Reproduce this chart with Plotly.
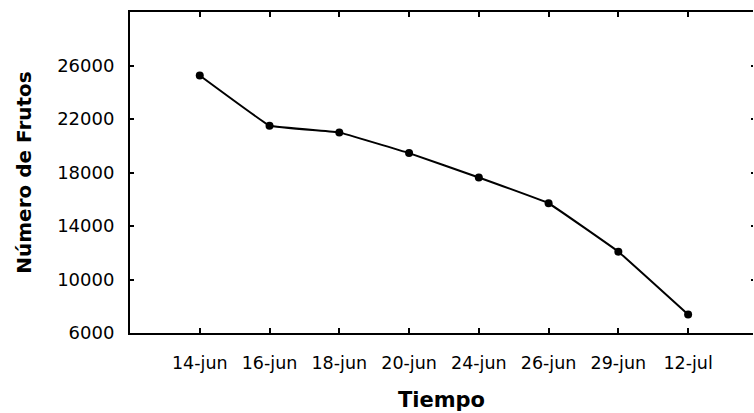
import plotly.graph_objects as go

# Fruit count over sampling dates
fechas = ["14-jun", "16-jun", "18-jun", "20-jun", "24-jun", "26-jun", "29-jun", "12-jul"]
frutos = [25250, 21500, 21000, 19450, 17630, 15700, 12080, 7380]
y_ticks = [6000, 10000, 14000, 18000, 22000, 26000]
y_labels = [str(v) for v in y_ticks]

FONT = "DejaVu Sans"

fig = go.Figure()
fig.add_trace(go.Scatter(
    x=fechas, y=frutos,
    mode="lines+markers",
    line=dict(color="black", width=2, shape="spline", smoothing=0.15),
    marker=dict(color="black", size=8),
    showlegend=False,
))
# right-hand tick marks without an axis line
fig.add_trace(go.Scatter(x=fechas, y=frutos, yaxis="y2", mode="none",
                         showlegend=False, hoverinfo="skip"))

fig.update_layout(
    width=754, height=413,
    margin=dict(l=130, r=1, t=12, b=80),
    paper_bgcolor="white", plot_bgcolor="white",
    font=dict(family=FONT, color="black"),
    xaxis=dict(
        type="category", range=[-1, 7.93],
        showline=True, linecolor="black", linewidth=2, mirror="ticks",
        ticks="inside", ticklen=5, tickwidth=1.5, tickcolor="black",
        showgrid=False, zeroline=False,
        tickfont=dict(family=FONT, size=17.5),
        ticklabelstandoff=13,
        title=dict(text="<b>Tiempo</b>", font=dict(family=FONT, size=21), standoff=20),
    ),
    yaxis=dict(
        range=[6000, 30000], tickvals=y_ticks, ticktext=y_labels,
        showline=True, linecolor="black", linewidth=2,
        ticks="inside", ticklen=4, tickwidth=1.5, tickcolor="black",
        showgrid=False, zeroline=False,
        tickfont=dict(family=FONT, size=18),
        ticklabelstandoff=10,
        title=dict(text="<b>Número de Frutos</b>", font=dict(family=FONT, size=20), standoff=20),
    ),
    yaxis2=dict(
        overlaying="y", side="right", range=[6000, 30000], tickvals=y_ticks,
        showline=False, ticks="inside", ticklen=2, tickwidth=2, tickcolor="black",
        showticklabels=False, showgrid=False, zeroline=False,
    ),
)

fig.write_html("out.html")
